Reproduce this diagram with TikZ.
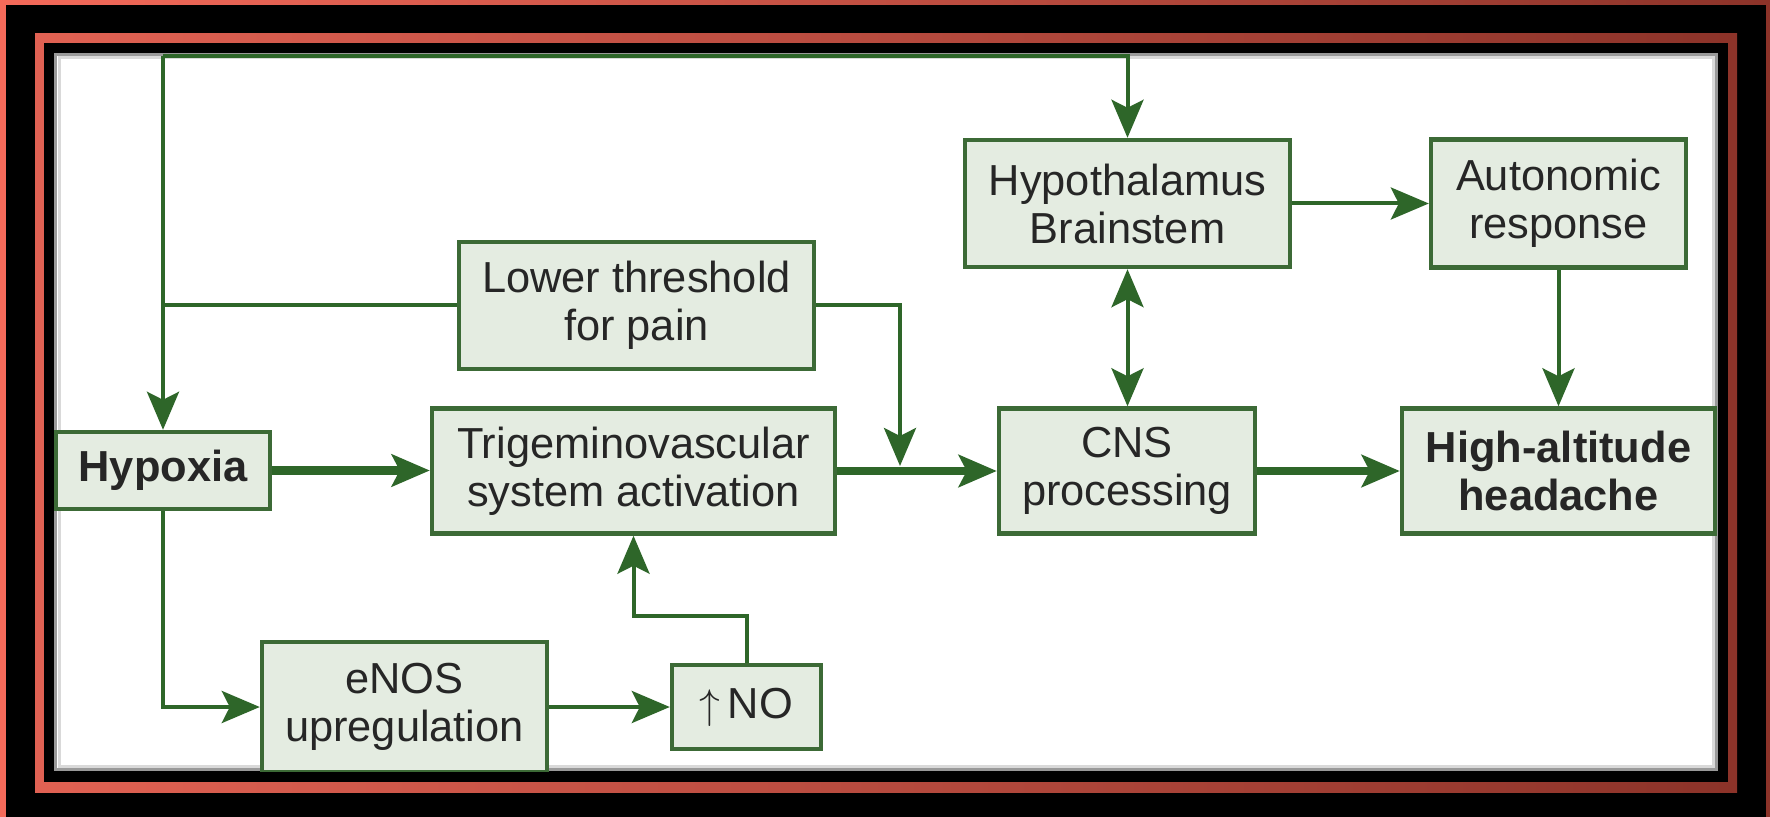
\documentclass[tikz,border=0pt]{standalone}
\usepackage{fontspec}
\setmainfont{Liberation Sans}
\usetikzlibrary{arrows.meta}
\definecolor{coralL}{HTML}{F46A5A}
\definecolor{coralR}{HTML}{8C3329}
\definecolor{boxfill}{HTML}{E4ECE1}
\definecolor{boxline}{HTML}{3C6A36}
\definecolor{arrowc}{HTML}{2E6629}
\definecolor{txt}{HTML}{262626}
\begin{document}
\begin{tikzpicture}[x=0.5pt,y=-0.5pt,
  box/.style={draw=boxline, line width=2.2pt, fill=boxfill, inner sep=0pt, align=center, text=txt,
    font=\fontsize{21.7}{24}\selectfont},
  bbox/.style={box, font=\fontsize{21.7}{24}\selectfont\bfseries},
  conn/.style={draw=arrowc, line width=2pt},
  thickconn/.style={draw=arrowc, line width=4pt},
  arrowtip/.style={-{Stealth[length=19pt,width=16pt,inset=4pt]}},
  arrowtwo/.style={{Stealth[length=19pt,width=16pt,inset=4pt]}-{Stealth[length=19pt,width=16pt,inset=4pt]}}
]
\useasboundingbox (0,0) rectangle (1770,817);
% frame
\shade[left color=coralL, right color=coralR] (0,0) rectangle (1770,817);
\fill[black] (6,5) rectangle (1766,817);
\shade[left color=coralL!92!black, right color=coralR] (35,34) rectangle (1737,792);
\fill[black] (44,43) rectangle (1728,782);
\fill[white] (54,53) rectangle (1718,771);
\draw[black!40, line width=1.2pt] (55.5,54.5) rectangle (1716.5,769.5);
\draw[black!15, line width=1.5pt] (59,58) rectangle (1713,766);
\begin{scope}
\clip (54,53) rectangle (1718,771);
% nodes
\node[bbox, minimum width=107pt, minimum height=38.5pt] (hyp) at (163,470.5) {Hypoxia};
\node[box, minimum width=201.5pt, minimum height=62.5pt] (trig) at (633.5,471) {Trigeminovascular\\system activation};
\node[box, minimum width=177.5pt, minimum height=63.5pt] (low) at (636.5,305.5) {Lower threshold\\for pain};
\node[box, minimum width=128pt, minimum height=62.5pt] (cns) at (1127,471) {CNS\\processing};
\node[box, minimum width=162.5pt, minimum height=63.5pt] (hb) at (1127.5,203.5) {Hypothalamus\\Brainstem};
\node[box, minimum width=127.5pt, minimum height=64pt] (aut) at (1558.5,203.5) {Autonomic\\response};
\node[bbox, minimum width=156.5pt, minimum height=62.5pt] (hah) at (1558.5,471) {High-altitude\\headache};
\node[box, minimum width=142.5pt, minimum height=65pt] (enos) at (404.5,707) {eNOS\\upregulation};
\node[box, minimum width=74.5pt, minimum height=42pt] (no) at (746.5,707) {$\uparrow$\,NO};
% connectors
\coordinate (tl) at (163,56);
\coordinate (lj) at (900,466);
\coordinate (nb) at (746.5,616);
\draw[conn] (low.west) -- (low.west -| tl);
\draw[conn, arrowtip] (tl) -- (hyp.north);
\draw[conn, arrowtip] (tl) -| (hb.north);
\draw[thickconn, arrowtip] (hyp.east) -- (hyp.east -| trig.west);
\draw[thickconn, arrowtip] (trig.east) -- (cns.west);
\draw[conn, arrowtip] (low.east) -| (lj);
\draw[thickconn, arrowtip] (cns.east) -- (hah.west);
\draw[conn, arrowtip] (hb.east) -- (aut.west);
\draw[conn, arrowtip] (aut.south) -- (hah.north);
\draw[conn, arrowtwo] (hb.south) -- (hb.south |- cns.north);
\draw[conn, arrowtip] (hyp.south) |- (enos.west);
\draw[conn, arrowtip] (enos.east) -- (no.west);
\draw[conn, arrowtip] (no.north) -- (nb) -| (trig.south);
\end{scope}
\end{tikzpicture}
\end{document}
